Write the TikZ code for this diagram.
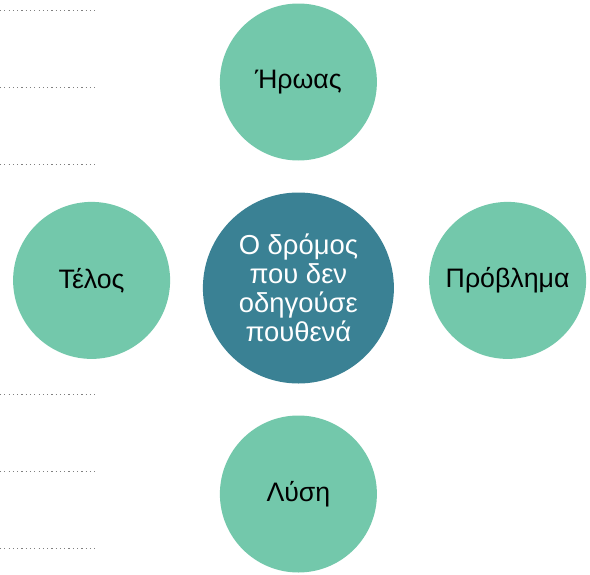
\documentclass[tikz,border=0pt]{standalone}
\usepackage{fontspec}
\setmainfont{Liberation Sans}
\usepackage{xcolor}
\usepackage{tikz}

\definecolor{leaf}{HTML}{73C8AB}
\definecolor{sea}{HTML}{3A8194}

\begin{document}
\begin{tikzpicture}[
    topic/.style={circle, fill=leaf, minimum size=3.925cm, inner sep=0pt, align=center, font=\fontsize{19}{20}\selectfont},
    title/.style={circle, fill=sea, text=white, minimum size=4.775cm, inner sep=0pt, align=center, font=\fontsize{19.5}{20.5}\selectfont},
    blank/.style={gray, line width=0.7pt, dash pattern=on 0.03cm off 0.077cm}
]
    \useasboundingbox (0,0) rectangle (14.75,-14.375);

    % Centre
    \node[title] (story) at (7.46,-7.2) {Ο δρόμος\\που δεν\\οδηγούσε\\πουθενά};

    % Around it
    \node[topic] (hero) at (7.46,-2.05) {Ήρωας};
    \node[topic] (problem) at (12.69,-7.01) {Πρόβλημα};
    \node[topic] (solution) at (7.46,-12.35) {Λύση};
    \node[topic] (end) at (2.29,-7.01) {Τέλος};

    % Lines to write on
    \foreach \y in {-0.25,-2.175,-4.1,-9.87,-11.79,-13.72}
        \draw[blank] (0,\y) -- (2.36,\y);
\end{tikzpicture}
\end{document}
